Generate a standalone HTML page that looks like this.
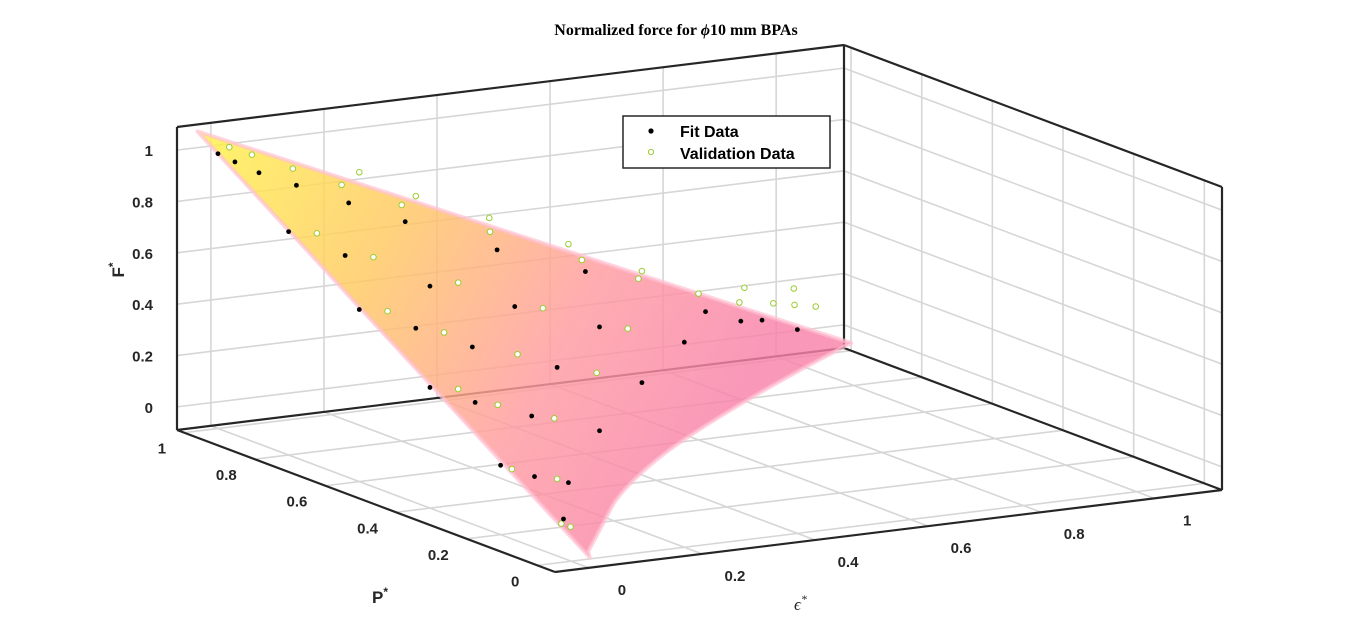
<!DOCTYPE html>
<html><head><meta charset="utf-8"><style>
body{margin:0;background:#fff;}
svg{display:block;font-family:"Liberation Sans",sans-serif;}
</style></head><body>
<svg id="chart" width="1353" height="643" viewBox="0 0 1353 643">
<defs>
<linearGradient id="surfGrad" gradientUnits="userSpaceOnUse" x1="210" y1="135" x2="720" y2="420">
<stop offset="0" stop-color="#fff04a"/>
<stop offset="0.35" stop-color="#ffc860"/>
<stop offset="0.7" stop-color="#ff9aa0"/>
<stop offset="1" stop-color="#f882aa"/>
</linearGradient>
</defs>
<text x="676" y="35" text-anchor="middle" font-family="Liberation Serif,serif" font-weight="bold" font-size="16">Normalized force for <tspan font-style="italic">ϕ</tspan>10 mm BPAs</text>
<g id="grid"></g>
<g id="box"></g>
<path id="surface" fill="url(#surfGrad)" fill-opacity="0.82" stroke="#ffc0d2" stroke-width="4" stroke-opacity="0.7" stroke-linejoin="round"/>
<g id="points"></g>
<g id="ticks" font-size="15" font-weight="bold" fill="#262626"></g>
<text x="0" y="0" transform="translate(124,270) rotate(-90)" text-anchor="middle" font-size="17" font-weight="bold" fill="#262626">F<tspan dy="-7" font-size="12">*</tspan></text>
<text x="372" y="603" font-size="17" font-weight="bold" fill="#262626">P<tspan dy="-7" font-size="12">*</tspan></text>
<text x="794" y="610" font-size="17" font-family="Liberation Serif,serif" font-style="italic" fill="#262626">ϵ<tspan dy="-7" font-size="12">*</tspan></text>
<g>
<rect x="623" y="116" width="207" height="52" fill="#fff" stroke="#262626" stroke-width="1.5"/>
<circle cx="651" cy="131" r="2.6" fill="#000"/>
<text x="680" y="137" font-size="16" font-weight="bold">Fit Data</text>
<circle cx="651" cy="152" r="2.6" fill="none" stroke="#9acd32"/>
<text x="680" y="159" font-size="16" font-weight="bold">Validation Data</text>
</g>
</svg>
<script>
const epsTicks=[0,0.2,0.4,0.6,0.8,1];
const pTicks=[0,0.2,0.4,0.6,0.8,1];
const fTicks=[0,0.2,0.4,0.6,0.8,1];
const fitEps=[0.0,0.03,0.06,0.12,0.2,0.3,0.45,0.6,0.8,0.85,0.9,0.95,0.0,0.1,0.25,0.4,0.55,0.7,0.0,0.1,0.2,0.35,0.5,0.0,0.08,0.18,0.3,0.0,0.06,0.12,0.03];
const fitP=[1,1,0.98,0.97,0.95,0.95,0.93,0.92,0.9,0.88,0.9,0.88,0.8,0.8,0.8,0.8,0.8,0.8,0.6,0.6,0.6,0.6,0.6,0.4,0.4,0.4,0.4,0.2,0.2,0.2,0.07];
const fitF=[0.98,0.94,0.9,0.84,0.76,0.66,0.52,0.4,0.2,0.16,0.14,0.1,0.78,0.66,0.5,0.38,0.26,0.16,0.58,0.48,0.38,0.26,0.16,0.38,0.3,0.22,0.13,0.18,0.12,0.08,0.03];
const valEps=[0.02,0.06,0.12,0.2,0.3,0.45,0.6,0.7,0.8,0.86,0.92,0.97,1.02,0.05,0.15,0.3,0.45,0.6,0.05,0.15,0.28,0.42,0.05,0.12,0.22,0.02,0.1,0.02,0.03,0.75,0.62,0.48,0.35,0.25,0.9,1.0];
const valP=[1,1,0.98,0.97,0.96,0.95,0.93,0.93,0.92,0.9,0.9,0.92,0.94,0.8,0.8,0.8,0.8,0.8,0.6,0.6,0.6,0.6,0.4,0.4,0.4,0.2,0.2,0.06,0.05,1,1,1,1,1,0.95,0.97];
const valF=[1.0,0.96,0.9,0.82,0.72,0.58,0.44,0.34,0.26,0.22,0.2,0.17,0.14,0.76,0.64,0.5,0.36,0.24,0.56,0.45,0.33,0.22,0.36,0.28,0.2,0.16,0.1,0.02,0.01,0.32,0.46,0.6,0.72,0.84,0.24,0.2];
const surfEdgeP=[0,0.167,0.3,0.497,0.68,0.86,1.0];
const surfEdgeEps=[0.03,0.164,0.27,0.468,0.69,0.925,1.12];

const E0=-0.06,E1=1.12,P0=-0.05,P1=1.02,Z0=-0.09,Z1=1.09;
function proj(e,p,f){
  const a=(e-E0)/(E1-E0),b=(p-P0)/(P1-P0),c=(f-Z0)/(Z1-Z0);
  return [555+667*a-378*b, 572-82*a-142*b-303*c];
}
const NS="http://www.w3.org/2000/svg";
function line(g,a,b,col,w){const l=document.createElementNS(NS,'line');l.setAttribute('x1',a[0]);l.setAttribute('y1',a[1]);l.setAttribute('x2',b[0]);l.setAttribute('y2',b[1]);l.setAttribute('stroke',col);l.setAttribute('stroke-width',w);g.appendChild(l);return l;}
const grid=document.getElementById('grid');
epsTicks.forEach(e=>{
  let l=line(grid,proj(e,P1,Z0),proj(e,P1,Z1),'#d6d6d6',1.6);
  
  
  l=line(grid,proj(e,P0,Z0),proj(e,P1,Z0),'#d6d6d6',1.6);
  
  
});
pTicks.forEach(p=>{
  let l=line(grid,proj(E1,p,Z0),proj(E1,p,Z1),'#d6d6d6',1.6);
  
  
  l=line(grid,proj(E0,p,Z0),proj(E1,p,Z0),'#d6d6d6',1.6);
  
  
});
fTicks.forEach(f=>{
  let l=line(grid,proj(E0,P1,f),proj(E1,P1,f),'#d6d6d6',1.6);
  
  
  l=line(grid,proj(E1,P0,f),proj(E1,P1,f),'#d6d6d6',1.6);
  
  
});
const box=document.getElementById('box');
[[[E0,P1,Z0],[E0,P1,Z1]],[[E0,P1,Z1],[E1,P1,Z1]],[[E1,P1,Z1],[E1,P1,Z0]],[[E1,P1,Z1],[E1,P0,Z1]],[[E1,P0,Z1],[E1,P0,Z0]],
 [[E0,P1,Z0],[E0,P0,Z0]],[[E0,P0,Z0],[E1,P0,Z0]],[[E1,P0,Z0],[E1,P1,Z0]],[[E1,P1,Z0],[E0,P1,Z0]]].forEach(s=>{
  const l=line(box,proj(...s[0]),proj(...s[1]),'#262626',2.2);
  
  
});
const tip=proj(-0.03,1.01,1.07);
const bottomTip=proj(0.02,-0.02,-0.07);
let d='M'+tip.join(',')+' L'+bottomTip.join(',');
const cur=surfEdgeP.map((p,i)=>proj(surfEdgeEps[i],p,-0.06));
d+=' L'+cur[0].join(',');
for(let i=1;i<cur.length-1;i++){
  const m=[(cur[i][0]+cur[i+1][0])/2,(cur[i][1]+cur[i+1][1])/2];
  d+=' Q'+cur[i].join(',')+' '+m.join(',');
}
d+=' L'+cur[cur.length-1].join(',')+' Z';
document.getElementById('surface').setAttribute('d',d);
const pg=document.getElementById('points');
for(let i=0;i<valEps.length;i++){
  const q=proj(valEps[i],valP[i],valF[i]);
  const c=document.createElementNS(NS,'circle');
  c.setAttribute('cx',q[0]);c.setAttribute('cy',q[1]);c.setAttribute('r',2.8);
  c.setAttribute('fill','#fff');c.setAttribute('stroke','#9acd32');c.setAttribute('stroke-width',1);
  
  
  pg.appendChild(c);
}
for(let i=0;i<fitEps.length;i++){
  const q=proj(fitEps[i],fitP[i],fitF[i]);
  const c=document.createElementNS(NS,'circle');
  c.setAttribute('cx',q[0]);c.setAttribute('cy',q[1]);c.setAttribute('r',2.4);
  c.setAttribute('fill','#000');
  
  
  pg.appendChild(c);
}
const tg=document.getElementById('ticks');
function txt(x,y,s,anchor,name){const t=document.createElementNS(NS,'text');t.setAttribute('x',x);t.setAttribute('y',y);t.setAttribute('text-anchor',anchor);t.textContent=s;
  
  
  tg.appendChild(t);}
epsTicks.forEach(e=>{const q=proj(e,P0,Z0);txt(q[0]+33,q[1]+27,String(e),'middle','eps-tick-label');});
pTicks.forEach(p=>{const q=proj(E0,p,Z0);txt(q[0]-18,q[1]+21,String(p),'end','p-tick-label');});
fTicks.forEach(f=>{const q=proj(E0,P1,f);txt(q[0]-24,q[1]+6,String(f),'end','f-tick-label');});
</script>
</body></html>
